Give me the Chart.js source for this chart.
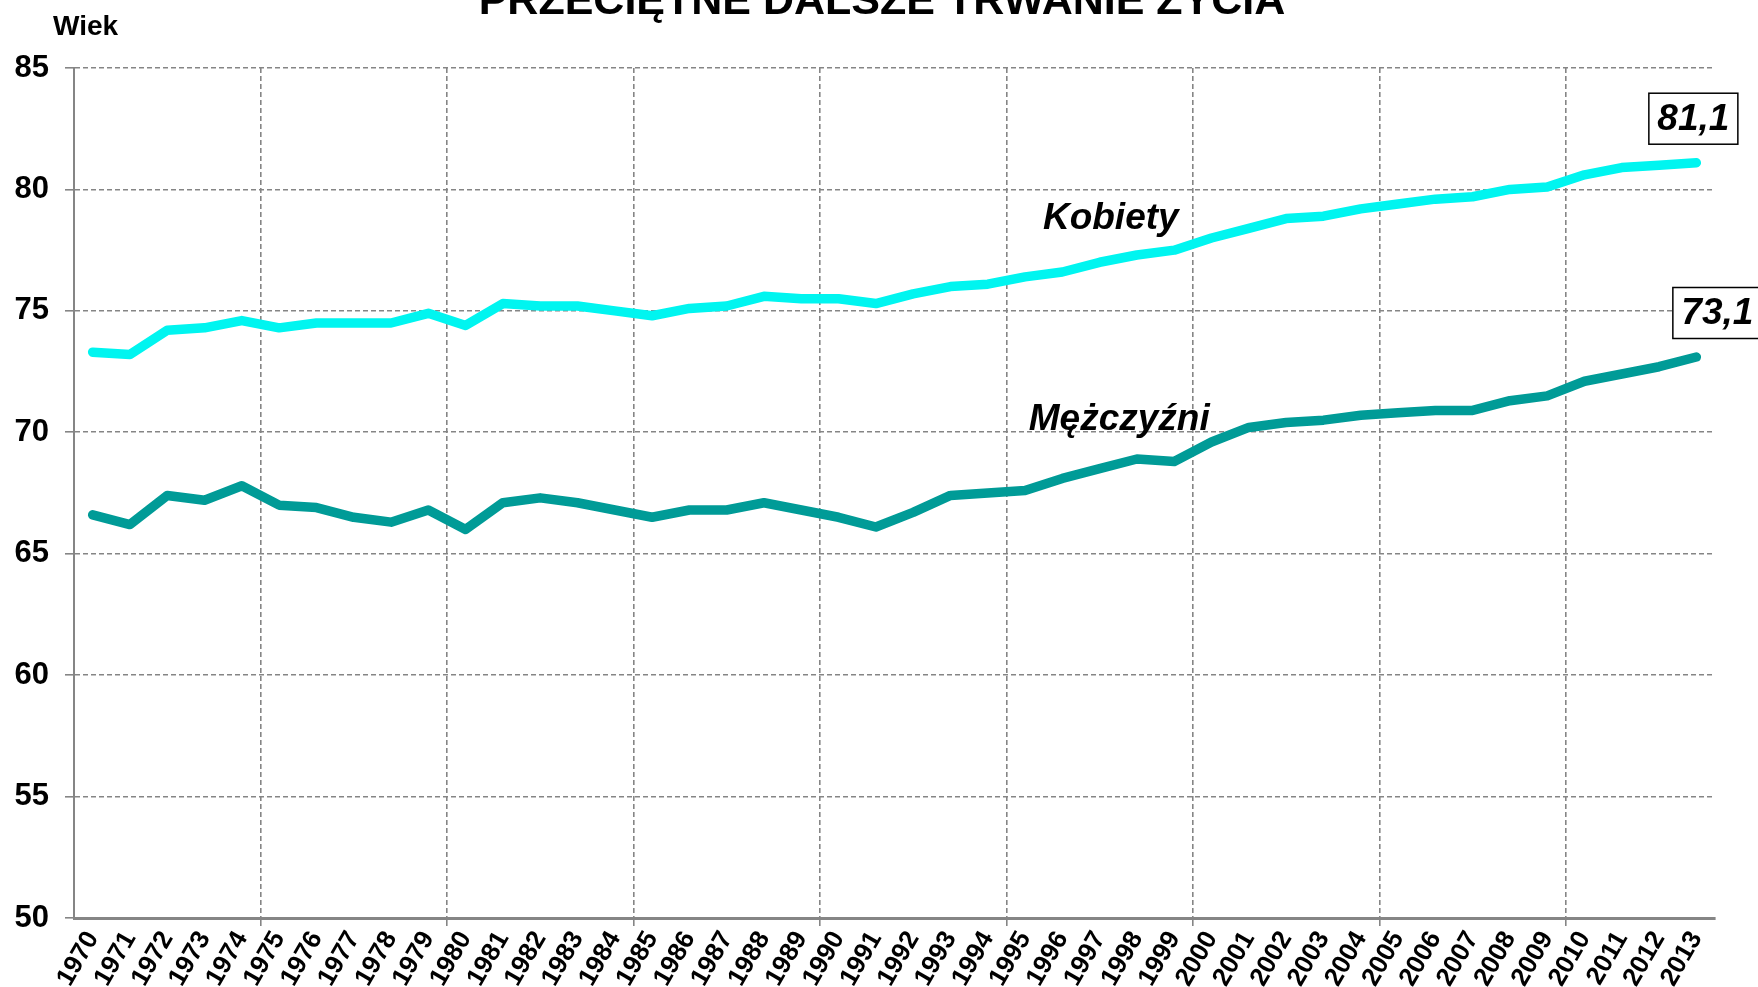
<!DOCTYPE html>
<html lang="pl">
<head>
<meta charset="utf-8">
<title>Przeciętne dalsze trwanie życia</title>
<script src="https://cdn.jsdelivr.net/npm/chart.js@4.4.1/dist/chart.umd.min.js"></script>
<style>
  html, body { margin: 0; padding: 0; background: #ffffff; overflow: hidden; }
  #wrap { position: relative; width: 1758px; height: 987px; }
</style>
</head>
<body>
<div id="wrap"><canvas id="lifeChart"></canvas></div>
<script>
(function () {
  'use strict';

  var years = [
    '1970', '1971', '1972', '1973', '1974', '1975', '1976', '1977', '1978', '1979',
    '1980', '1981', '1982', '1983', '1984', '1985', '1986', '1987', '1988', '1989',
    '1990', '1991', '1992', '1993', '1994', '1995', '1996', '1997', '1998', '1999',
    '2000', '2001', '2002', '2003', '2004', '2005', '2006', '2007', '2008', '2009',
    '2010', '2011', '2012', '2013'
  ];

  var kobiety = [
    73.3, 73.2, 74.2, 74.3, 74.6, 74.3, 74.5, 74.5, 74.5, 74.9,
    74.4, 75.3, 75.2, 75.2, 75.0, 74.8, 75.1, 75.2, 75.6, 75.5,
    75.5, 75.3, 75.7, 76.0, 76.1, 76.4, 76.6, 77.0, 77.3, 77.5,
    78.0, 78.4, 78.8, 78.9, 79.2, 79.4, 79.6, 79.7, 80.0, 80.1,
    80.6, 80.9, 81.0, 81.1
  ];

  var mezczyzni = [
    66.6, 66.2, 67.4, 67.2, 67.8, 67.0, 66.9, 66.5, 66.3, 66.8,
    66.0, 67.1, 67.3, 67.1, 66.8, 66.5, 66.8, 66.8, 67.1, 66.8,
    66.5, 66.1, 66.7, 67.4, 67.5, 67.6, 68.1, 68.5, 68.9, 68.8,
    69.6, 70.2, 70.4, 70.5, 70.7, 70.8, 70.9, 70.9, 71.3, 71.5,
    72.1, 72.4, 72.7, 73.1
  ];

  var yMin = 50;
  var yMax = 85;
  var yStep = 5;

  var FONT = '"Liberation Sans", Arial, sans-serif';
  var GRID = '#858585';

  function formatValue(v) {
    return v.toFixed(1).replace('.', ',');
  }

  // napisy: tytuł, "Wiek", nazwy serii i ramki z ostatnią wartością
  var textPlugin = {
    id: 'chartTexts',
    afterDatasetsDraw: function (chart, args, opts) {
      var ctx = chart.ctx;
      var xs = chart.scales.x;
      var ys = chart.scales.y;

      ctx.save();
      ctx.fillStyle = '#000000';

      ctx.font = 'bold 43px ' + FONT;
      ctx.textAlign = 'center';
      ctx.textBaseline = 'alphabetic';
      ctx.fillText(opts.title, chart.width / 2 + 3, 14);

      ctx.font = 'bold 28px ' + FONT;
      ctx.textAlign = 'left';
      ctx.fillText(opts.unit, 53, 35);

      ctx.font = 'italic bold 37px ' + FONT;
      opts.series.forEach(function (s) {
        ctx.fillText(s.text, xs.getPixelForValue(s.at), ys.getPixelForValue(s.value));
      });

      opts.boxes.forEach(function (b) {
        var meta = chart.getDatasetMeta(b.dataset);
        var data = chart.data.datasets[b.dataset].data;
        var pt = meta.data[meta.data.length - 1];
        var cx = pt.x + b.dx;
        var cy = pt.y + b.dy;
        var w = 89, h = 51;
        ctx.fillStyle = '#ffffff';
        ctx.fillRect(cx - w / 2, cy - h / 2, w, h);
        ctx.strokeStyle = '#000000';
        ctx.lineWidth = 1.5;
        ctx.strokeRect(cx - w / 2, cy - h / 2, w, h);
        ctx.fillStyle = '#000000';
        ctx.font = 'italic bold 37px ' + FONT;
        ctx.textAlign = 'center';
        ctx.textBaseline = 'middle';
        ctx.fillText(formatValue(data[data.length - 1]), cx, cy + 1);
      });

      ctx.restore();
    }
  };

  function everyFifth(ctx) {
    var i = ctx.index;
    return (i > 0 && i % 5 === 0 && i < years.length) ? GRID : 'rgba(0,0,0,0)';
  }

  function renderChart() {
    var canvas = document.getElementById('lifeChart');
    if (!canvas || typeof Chart === 'undefined') return;

    new Chart(canvas, {
      type: 'line',
      data: {
        labels: years,
        datasets: [{
          label: 'Kobiety',
          data: kobiety,
          borderColor: '#00f5f0',
          borderWidth: 9.5,
          borderCapStyle: 'round',
          borderJoinStyle: 'round',
          pointRadius: 0,
          tension: 0,
          fill: false
        }, {
          label: 'Mężczyźni',
          data: mezczyzni,
          borderColor: '#009b97',
          borderWidth: 9.5,
          borderCapStyle: 'round',
          borderJoinStyle: 'round',
          pointRadius: 0,
          tension: 0,
          fill: false
        }]
      },
      options: {
        responsive: true,
        maintainAspectRatio: false,
        animation: false,
        layout: { padding: { top: 68, right: 43, left: 0, bottom: 0 } },
        scales: {
          x: {
            offset: true,
            grid: {
              offset: true,
              color: everyFifth,
              tickColor: everyFifth,
              lineWidth: 1.6,
              tickLength: 8,
              tickBorderDash: []
            },
            border: { display: true, color: GRID, width: 3, dash: [5, 3] },
            ticks: {
              autoSkip: false,
              minRotation: 60,
              maxRotation: 60,
              padding: 0,
              color: '#000000',
              font: { family: FONT, size: 26, weight: 'bold' }
            },
            afterFit: function (scale) {
              scale.height = 69;
              scale.paddingLeft = 0;
              scale.paddingRight = 0;
            }
          },
          y: {
            min: yMin,
            max: yMax,
            ticks: {
              stepSize: yStep,
              padding: 16,
              color: '#000000',
              font: { family: FONT, size: 31, weight: 'bold' }
            },
            grid: {
              color: function (ctx) { return ctx.index === 0 ? 'rgba(0,0,0,0)' : GRID; },
              tickColor: GRID,
              lineWidth: 1.6,
              tickLength: 9,
              tickBorderDash: []
            },
            border: { display: true, color: GRID, width: 2, dash: [5, 3] },
            afterFit: function (scale) {
              scale.width = 74;
            }
          }
        },
        plugins: {
          legend: { display: false },
          tooltip: { enabled: false },
          chartTexts: {
            title: 'PRZECIĘTNE DALSZE TRWANIE ŻYCIA',
            unit: 'Wiek',
            series: [
              { text: 'Kobiety', at: 25.48, value: 78.38 },
              { text: 'Mężczyźni', at: 25.1, value: 70.11 }
            ],
            boxes: [
              { dataset: 0, dx: -3, dy: -44 },
              { dataset: 1, dx: 21, dy: -44 }
            ]
          }
        }
      },
      plugins: [textPlugin]
    });
  }

  document.addEventListener('DOMContentLoaded', renderChart);
}());
</script>
</body>
</html>
